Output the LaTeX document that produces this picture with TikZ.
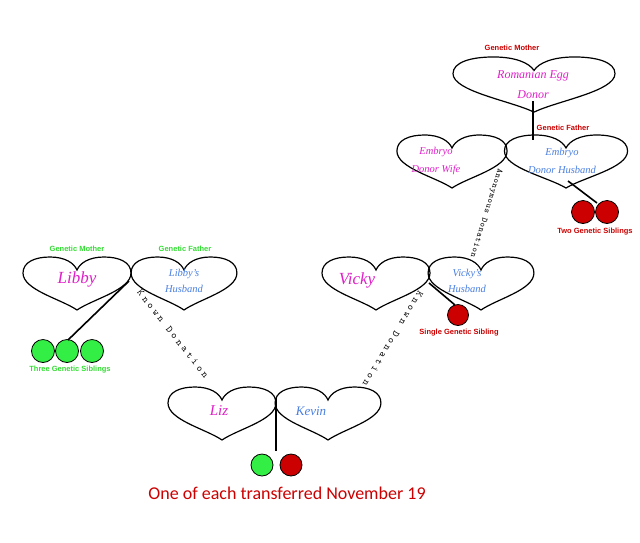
\documentclass[tikz,border=0pt]{standalone}
\usepackage{fontspec}
\setmainfont{Liberation Serif}
\setmonofont{Latin Modern Mono}
\newfontfamily\capfont{Carlito}
\newfontfamily\lblfont{Liberation Sans}
\newfontfamily\donfont[LetterSpace=30]{Latin Modern Mono}
\newfontfamily\anonfont[LetterSpace=8]{Latin Modern Mono}
\definecolor{sred}{HTML}{CC0000}
\definecolor{sgreen}{HTML}{33EE44}
\definecolor{lgreen}{HTML}{33DD33}
\definecolor{pinkt}{HTML}{E020C8}
\definecolor{bluet}{HTML}{4A7FE0}
\tikzset{
  heart/.pic={\draw[line width=1.2pt] (0,52) .. controls (-16,41) and (-54,32) .. (-54,15)
     .. controls (-54,4) and (-42,-1) .. (-27,-1) .. controls (-12,-1) and (-3,5) .. (0,12)
     .. controls (3,5) and (12,-1) .. (27,-1) .. controls (42,-1) and (54,4) .. (54,15)
     .. controls (54,32) and (16,41) .. (0,52) -- cycle;},
  mom/.style={font=\itshape\fontsize{12}{12}\selectfont, text=pinkt, align=center},
  dad/.style={font=\itshape\fontsize{10.5}{16}\selectfont, text=bluet, align=center},
  gen/.style={font=\lblfont\bfseries\fontsize{7.5}{7.5}\selectfont, text=sred, inner sep=1pt},
  genG/.style={font=\lblfont\bfseries\fontsize{7.5}{7.5}\selectfont, text=lgreen, inner sep=1pt},
  redball/.style={circle, draw=black, line width=0.8pt, fill=sred, minimum size=23pt, inner sep=0pt},
  greenball/.style={circle, draw=black, line width=0.8pt, fill=sgreen, minimum size=23pt, inner sep=0pt},
  link/.style={line width=1.6pt},
  dlabel/.style={sloped, allow upside down, midway, inner sep=0pt, font=\donfont\fontsize{10}{10}\selectfont},
  alabel/.style={sloped, allow upside down, midway, inner sep=0pt, font=\anonfont\fontsize{8.5}{8.5}\selectfont}
}
\begin{document}
\begin{tikzpicture}[x=1pt,y=-1pt]
\useasboundingbox[fill=white] (0,0) rectangle (640,542);
% hearts
\pic[xscale=1.5, yscale=1.04] at (534,58) {heart};
\pic[xscale=1.02] at (452,136) {heart};
\pic[xscale=1.14] at (566,136) {heart};
\pic[xscale=1.0] at (77,258) {heart};
\pic[xscale=0.98] at (184,258) {heart};
\pic[xscale=1.0] at (376,258) {heart};
\pic[xscale=0.98] at (481,258) {heart};
\pic[xscale=1.0] at (222,388) {heart};
\pic[xscale=0.98] at (328,388) {heart};
% texts
\node[gen] (gm1) at (512,48) {Genetic Mother};
\node[mom, font=\itshape\fontsize{12}{20}\selectfont] (rom) at (533,85) {Romanian Egg\\Donor};
\node[gen] (gf1) at (563,128) {Genetic Father};
\node[mom, font=\itshape\fontsize{10.5}{18}\selectfont] (ew) at (436,161) {Embryo\\Donor Wife};
\node[dad, font=\itshape\fontsize{10.5}{18}\selectfont] (eh) at (562,161) {Embryo\\Donor Husband};
\node[genG] (gm2) at (77,249) {Genetic Mother};
\node[genG] (gf2) at (185,249) {Genetic Father};
\node[mom, font=\itshape\fontsize{17}{17}\selectfont] (libby) at (77,279) {Libby};
\node[dad] (lh) at (184,281) {Libby's\\Husband};
\node[mom, font=\itshape\fontsize{17}{17}\selectfont] (vicky) at (357,280) {Vicky};
\node[dad] (vh) at (467,281) {Vicky's\\Husband};
\node[mom, font=\itshape\fontsize{15}{15}\selectfont] (liz) at (219,411) {Liz};
\node[dad, font=\itshape\fontsize{13}{13}\selectfont] (kevin) at (311,411) {Kevin};
% siblings
\node[redball] (e1) at (583,212) {};
\node[redball] (e2) at (607,212) {};
\node[gen] (two) at (595,232) {Two Genetic Siblings};
\node[greenball] (l1) at (43,351) {};
\node[greenball] (l2) at (67,351) {};
\node[greenball] (l3) at (92,351) {};
\node[genG] (three) at (70,370) {Three Genetic Siblings};
\node[redball, minimum size=21pt] (v1) at (458,315) {};
\node[gen] (single) at (459,333) {Single Genetic Sibling};
\node[greenball, minimum size=22pt] (k1) at (262,465) {};
\node[redball, minimum size=22pt] (k2) at (291,465) {};
\node[font=\capfont\fontsize{18}{18}\selectfont, text=sred] (cap) at (287,493) {One of each transferred November 19};
% junction coordinates
\coordinate (romB) at (533,101);
\coordinate (ehT) at (533,140);
\coordinate (ehJ) at (568,181);
\coordinate (eBall) at (597,203);
\coordinate (lJ) at (129,281);
\coordinate (lBall) at (68,340);
\coordinate (vJ) at (429,283);
\coordinate (vBall) at (455,305);
\coordinate (kJ) at (276,398);
\coordinate (kEnd) at (276,451);
\coordinate (anA) at (500,168);
\coordinate (anB) at (472,258);
\coordinate (knA) at (136,287);
\coordinate (knB) at (210,381);
\coordinate (kvA) at (421,292);
\coordinate (kvB) at (365,386);
% connectors
\draw[link] (romB) -- (ehT);
\draw[link] (ehJ) -- (eBall);
\draw[link] (lJ) -- (lBall);
\draw[link] (vJ) -- (vBall);
\draw[link] (kJ) -- (kEnd);
\path (anA) -- node[alabel] (anon) {Anonymous Donation} (anB);
\path (knA) -- node[dlabel] (known1) {Known Donation} (knB);
\path (kvA) -- node[dlabel] (known2) {Known Donation} (kvB);
\end{tikzpicture}
\end{document}
